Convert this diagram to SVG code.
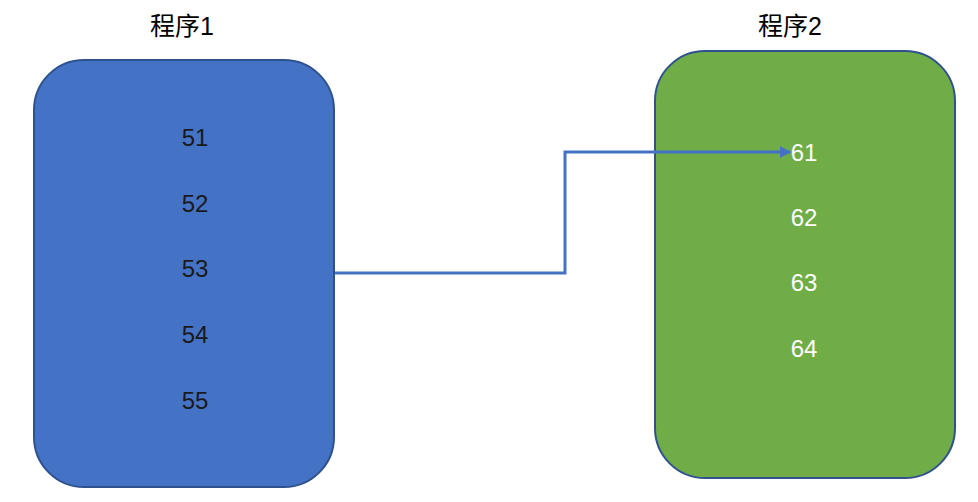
<svg xmlns="http://www.w3.org/2000/svg" width="978" height="502" viewBox="0 0 978 502">
<style>
.title{font-family:"Liberation Sans","Noto Sans CJK SC",sans-serif;font-size:25px;fill:#000;text-anchor:middle}
.num{font-family:"Liberation Sans",sans-serif;font-size:24px;text-anchor:middle;dominant-baseline:central}
.box{stroke:#2F528F;stroke-width:2}
.conn{fill:none;stroke:#4472C4;stroke-width:3}
</style>
<defs>
<marker id="arr" markerWidth="4" markerHeight="4" refX="3.5" refY="2" orient="auto" markerUnits="strokeWidth">
<path d="M0,0 L4,2 L0,4 Z" fill="#4472C4"/>
</marker>
</defs>
<rect width="978" height="502" fill="#fff"/>
<g id="prog1">
<text class="title" x="182" y="35">程序1</text>
<rect class="box" x="34" y="60" width="300" height="427" rx="50" fill="#4472C4"/>
<g class="num" fill="#1a1a1a">
<text x="195" y="137">51</text>
<text x="195" y="203">52</text>
<text x="195" y="268">53</text>
<text x="195" y="334">54</text>
<text x="195" y="400">55</text>
</g>
</g>
<g id="prog2">
<text class="title" x="790" y="35">程序2</text>
<rect class="box" x="655" y="51" width="300" height="427" rx="50" fill="#70AD47"/>
<g class="num" fill="#fff">
<text x="804" y="152">61</text>
<text x="804" y="217">62</text>
<text x="804" y="282">63</text>
<text x="804" y="348">64</text>
</g>
</g>
<g id="connectors">
<polyline class="conn" points="335,273 565,273 565,152 790,152" marker-end="url(#arr)"/>
</g>
</svg>
